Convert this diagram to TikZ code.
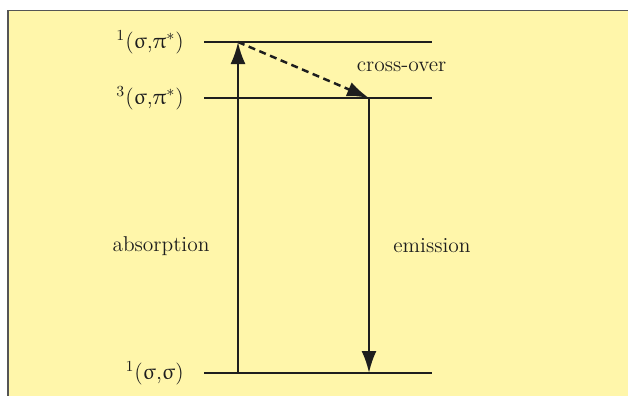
\documentclass[tikz,border=0pt]{standalone}
\usepackage{upgreek}
\usepackage{xcolor}
\usetikzlibrary{positioning,arrows.meta}
\definecolor{panelYellow}{HTML}{FFF6AA}
\definecolor{panelEdge}{HTML}{555555}
\definecolor{lineDark}{HTML}{1E1E1E}
\newcommand{\statetxt}[2]{\textsuperscript{#1}(#2)}
\tikzset{
  panel/.style={draw=panelEdge,fill=panelYellow,line width=1.1pt},
  level/.style={draw=lineDark,line width=1.4pt},
  trans/.style={-{Latex[length=4.4mm,width=3mm]},line width=1.4pt,draw=lineDark},
  crossing/.style={trans,dash pattern=on 4pt off 2.6pt},
  statelabel/.style={font=\fontsize{12.5}{15}\selectfont,anchor=east,inner sep=0pt,text=lineDark},
  translabel/.style={font=\fontsize{12.2}{14}\selectfont,inner sep=0pt,text=lineDark}
}

\begin{document}
\begin{tikzpicture}
  \useasboundingbox (0,0) rectangle (12.56,7.9);
  \draw[panel] (0.16,-0.2) rectangle (12.8,7.69);

  % energy levels
  \coordinate (s1L) at (4.08,7.06);  \coordinate (s1R) at (8.64,7.06);
  \coordinate (t1L) at (4.08,5.94);  \coordinate (t1R) at (8.64,5.94);
  \coordinate (s0L) at (4.08,0.44);  \coordinate (s0R) at (8.64,0.44);
  \draw[level] (s1L) -- (s1R);
  \draw[level] (t1L) -- (t1R);
  \draw[level] (s0L) -- (s0R);

  \node[statelabel] (s1lab) at (3.68,7.06) {\statetxt{1}{$\upsigma$,$\uppi^*$}};
  \node[statelabel] (t1lab) at (3.68,5.94) {\statetxt{3}{$\upsigma$,$\uppi^*$}};
  \node[statelabel] (s0lab) at (3.68,0.44) {\statetxt{1}{$\upsigma$,$\upsigma$}};

  % transitions
  \coordinate (absBot) at (4.76,0.44);
  \coordinate (absTop) at (4.76,7.06);
  \coordinate (emiTop) at (7.38,5.94);
  \coordinate (emiBot) at (7.38,0.44);
  \draw[trans] (absBot) -- (absTop);
  \draw[crossing] (absTop) -- (emiTop);
  \draw[trans] (emiTop) -- (emiBot);

  \node[translabel] (abslab) at (3.22,2.98) {absorption};
  \node[translabel] (emilab) at (8.64,2.98) {emission};
  \node[translabel] (crosslab) at (8.03,6.56) {cross-over};
\end{tikzpicture}
\end{document}
